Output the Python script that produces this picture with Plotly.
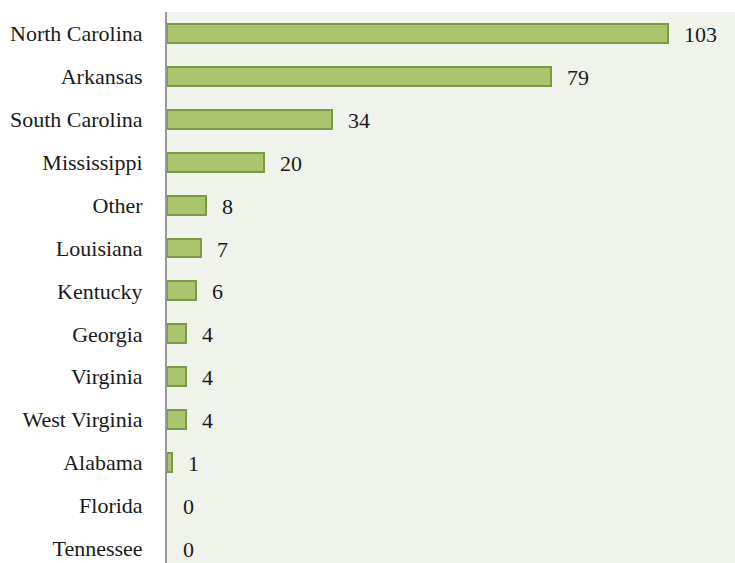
import plotly.graph_objects as go

states = ["North Carolina", "Arkansas", "South Carolina", "Mississippi", "Other",
          "Louisiana", "Kentucky", "Georgia", "Virginia", "West Virginia",
          "Alabama", "Florida", "Tennessee"]
counts = [103, 79, 34, 20, 8, 7, 6, 4, 4, 4, 1, 0, 0]

FONT = "Liberation Serif, Times New Roman, serif"

fig = go.Figure()
fig.add_trace(go.Bar(
    x=counts,
    y=states,
    orientation="h",
    width=0.44,
    marker=dict(
        color="#aac56e",
        # no outline on empty bars so nothing is drawn for zero counts
        line=dict(color="#7a9a4a", width=[2 if v > 0 else 0 for v in counts]),
    ),
    hoverinfo="x+y",
))

# value labels to the right of each bar
for s, v in zip(states, counts):
    fig.add_annotation(
        x=v, y=s, text=str(v), showarrow=False,
        xanchor="left", yanchor="middle", xshift=14, yshift=-1,
        font=dict(family=FONT, size=22, color="#1a1a1a"),
    )

fig.update_layout(
    width=735, height=563,
    margin=dict(l=167, r=0, t=12, b=0),
    paper_bgcolor="white",
    plot_bgcolor="#f0f3ec",
    showlegend=False,
    font=dict(family=FONT, size=22, color="#1a1a1a"),
    bargap=0,
)
fig.update_xaxes(
    range=[0, 116.8], showgrid=False, zeroline=False,
    showticklabels=False, ticks="", showline=False,
)
fig.update_yaxes(
    categoryorder="array", categoryarray=states,
    range=[12.34, -0.5],
    showgrid=False, zeroline=False,
    showline=True, linecolor="#999999", linewidth=2,
    ticks="outside", ticklen=18, tickcolor="rgba(0,0,0,0)",
    tickfont=dict(family=FONT, size=22, color="#1a1a1a"),
)

fig.write_html("out.html")
